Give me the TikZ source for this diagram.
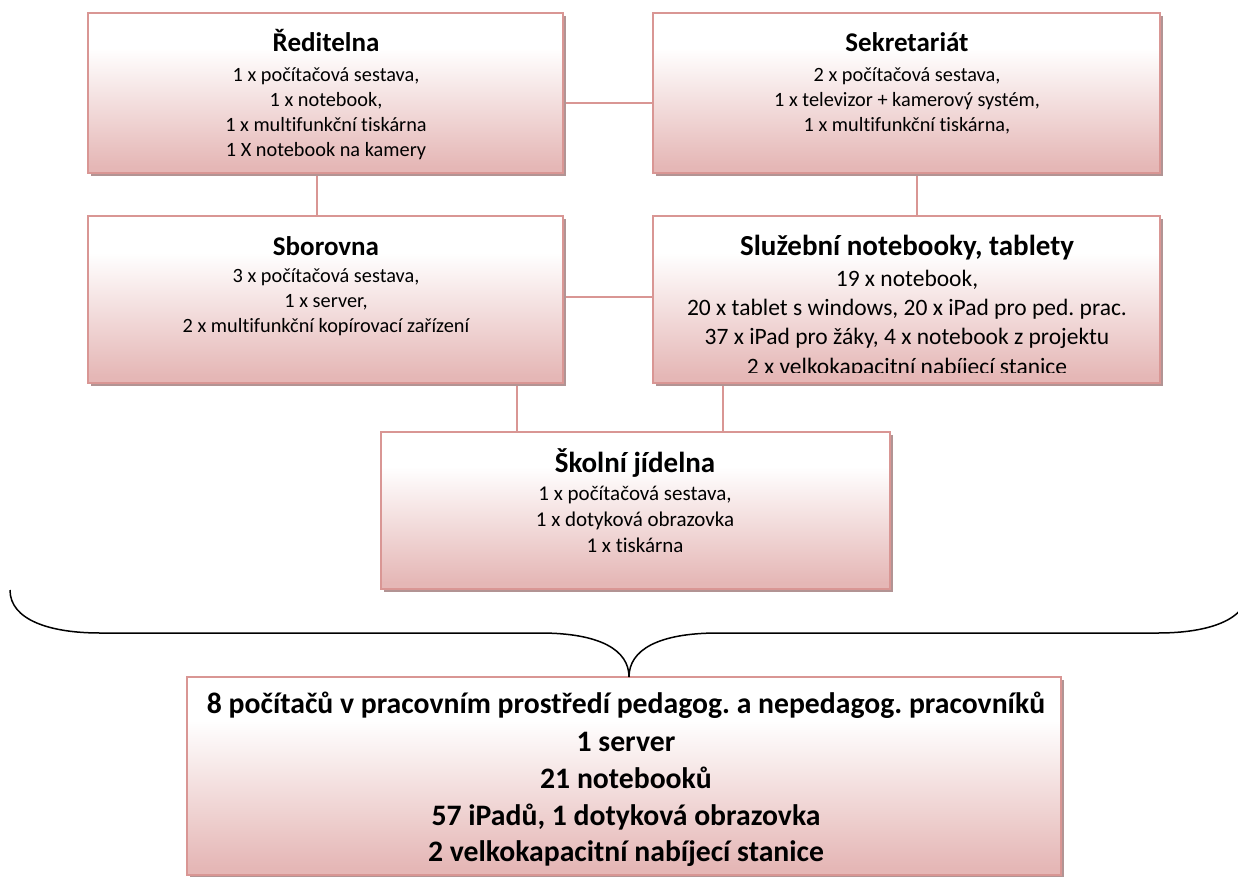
\documentclass[tikz,border=0pt]{standalone}
\usepackage{fontspec}
\setmainfont{Carlito}[Ligatures=NoCommon]
\usetikzlibrary{shadows,backgrounds}
\definecolor{bordercol}{RGB}{217,150,148}
\definecolor{fillbot}{RGB}{229,183,182}
\definecolor{shadowcol}{RGB}{178,148,148}
\pgfdeclareverticalshading{boxshade}{100bp}{color(0bp)=(fillbot); color(27bp)=(fillbot); color(64bp)=(white); color(100bp)=(white)}
\tikzset{
  boxnode/.style={draw=bordercol, line width=2pt, shade, shading=boxshade, anchor=north west,
    inner sep=0pt, outer sep=0pt,
    drop shadow={shadow xshift=3pt, shadow yshift=-3pt, fill=shadowcol, opacity=1}},
  conn/.style={draw=bordercol, line width=2pt},
  ttl/.style={font=\fontsize{27}{32}\selectfont\bfseries, anchor=base, inner sep=0pt},
  bod/.style={font=\fontsize{20.3}{24}\selectfont, anchor=base, inner sep=0pt},
  ttlb/.style={font=\fontsize{29}{34}\selectfont\bfseries, anchor=base, inner sep=0pt},
  bodb/.style={font=\fontsize{23.5}{28}\selectfont, anchor=base, inner sep=0pt},
  bodj/.style={font=\fontsize{21}{25}\selectfont, anchor=base, inner sep=0pt},
  sumtxt/.style={font=\fontsize{29.7}{36}\selectfont\bfseries, anchor=base, inner sep=0pt},
  bracepath/.style={draw=black, line width=1.5pt},
}
\frenchspacing
\begin{document}
\begin{tikzpicture}[x=1pt,y=-1pt]
\useasboundingbox (0,0) rectangle (1238,877);
% boxes
\node[boxnode, minimum width=475pt, minimum height=160pt] (red) at (88,13) {};
\node[boxnode, minimum width=507pt, minimum height=160pt] (sek) at (653,13) {};
\node[boxnode, minimum width=475pt, minimum height=167pt] (sbo) at (88,216) {};
\node[boxnode, minimum width=507pt, minimum height=167pt] (slu) at (653,216) {};
\node[boxnode, minimum width=509pt, minimum height=157pt] (jid) at (381,432) {};
\node[boxnode, minimum width=874pt, minimum height=198pt] (sum) at (187,677) {};
% connector helper coordinates
\coordinate (h1) at (0,103);
\coordinate (h2) at (0,297);
\coordinate (v1) at (317,0);
\coordinate (v2) at (917,0);
\coordinate (v3) at (517,0);
\coordinate (v4) at (723,0);
\coordinate (v5) at (629,0);
\begin{scope}[on background layer]
\draw[conn] (red.east |- h1) -- (sek.west |- h1);
\draw[conn] (red.south -| v1) -- (sbo.north -| v1);
\draw[conn] (sek.south -| v2) -- (slu.north -| v2);
\draw[conn] (sbo.east |- h2) -- (slu.west |- h2);
\draw[conn] (sbo.south -| v3) -- (jid.north -| v3);
\draw[conn] (slu.south -| v4) -- (jid.north -| v4);
\end{scope}
% Reditelna
\node[ttl] (red-t) at (326,52) {Ředitelna};
\node[bod] (red-1) at (326,82) {1 x počítačová sestava,};
\node[bod] (red-2) at (326,107) {1 x notebook,};
\node[bod] (red-3) at (326,132) {1 x multifunkční tiskárna};
\node[bod] (red-4) at (326,157) {1 X notebook na kamery};
% Sekretariat
\node[ttl] (sek-t) at (907,52) {Sekretariát};
\node[bod] (sek-1) at (907,82) {2 x počítačová sestava,};
\node[bod] (sek-2) at (907,107) {1 x televizor + kamerový systém,};
\node[bod] (sek-3) at (907,132) {1 x multifunkční tiskárna,};
% Sborovna
\node[ttl] (sbo-t) at (326,255) {Sborovna};
\node[bod] (sbo-1) at (326,282) {3 x počítačová sestava,};
\node[bod] (sbo-2) at (326,307) {1 x server,};
\node[bod] (sbo-3) at (326,332) {2 x multifunkční kopírovací zařízení};
% Sluzebni
\node[ttlb] (slu-t) at (907,255) {Služební notebooky, tablety};
\node[bodb] (slu-1) at (907,286) {19 x notebook,};
\node[bodb] (slu-2) at (907,315) {20 x tablet s windows, 20 x iPad pro ped. prac.};
\node[bodb] (slu-3) at (907,344) {37 x iPad pro žáky, 4 x notebook z projektu};
\begin{scope}
\clip (653,216) rectangle (1160,372.5);
\node[bodb] (slu-4) at (907,374) {2 x velkokapacitní nabíjecí stanice};
\end{scope}
% Skolni jidelna
\node[ttlb] (jid-t) at (635,472) {Školní jídelna};
\node[bodj] (jid-1) at (635,500) {1 x počítačová sestava,};
\node[bodj] (jid-2) at (635,526) {1 x dotyková obrazovka};
\node[bodj] (jid-3) at (635,552) {1 x tiskárna};
% brace
\coordinate (bl) at (10,590);
\coordinate (br) at (1248,590);
\coordinate (tip) at (sum.north -| v5);
\draw[bracepath] (bl) .. controls (10,620) and (50,633) .. (100,633) -- (540,633)
  .. controls (600,633) and (629,650) .. (tip)
  .. controls (629,650) and (658,633) .. (718,633) -- (1158,633)
  .. controls (1208,633) and (1248,620) .. (br);
% summary
\node[sumtxt] (sum-1) at (626,713) {8 počítačů v pracovním prostředí pedagog. a nepedagog. pracovníků};
\node[sumtxt] (sum-2) at (626,751) {1 server};
\node[sumtxt] (sum-3) at (626,788) {21 notebooků};
\node[sumtxt] (sum-4) at (626,825) {57 iPadů, 1 dotyková obrazovka};
\node[sumtxt] (sum-5) at (626,861) {2 velkokapacitní nabíjecí stanice};
\end{tikzpicture}
\end{document}
